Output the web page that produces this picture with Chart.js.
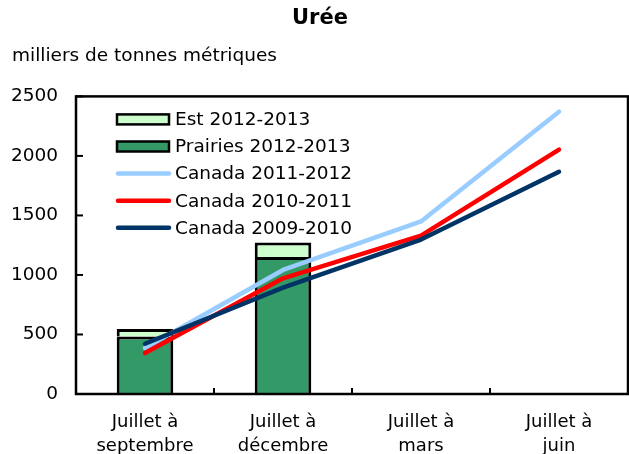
<!DOCTYPE html>
<html><head><meta charset="utf-8">
<script src="https://cdn.jsdelivr.net/npm/chart.js@4"></script>
<style>html,body{margin:0;padding:0;background:#fff}#wrap{width:629px;height:454px}</style>
</head><body><div id="wrap"><canvas id="c" width="629" height="454"></canvas></div>
<script>
const categories = [['Juillet à','septembre'],['Juillet à','décembre'],['Juillet à','mars'],['Juillet à','juin']];
const est20122013 = [63, 122, null, null];
const prairies20122013 = [482, 1150, null, null];
const canada20112012 = [386, 1042, 1450, 2372];
const canada20102011 = [344, 972, 1331, 2053];
const canada20092010 = [422, 894, 1297, 1867];
const yTicks = [0, 500, 1000, 1500, 2000, 2500];

const FONT = "'DejaVu Sans', Verdana, sans-serif";

const frame = {
  id: 'frame',
  afterDraw(chart) {
    const {ctx, chartArea: a, scales} = chart;
    ctx.save();
    ctx.strokeStyle = '#000';
    ctx.lineWidth = 2.5;
    ctx.strokeRect(a.left, a.top, a.right - a.left, a.bottom - a.top);
    ctx.lineWidth = 2;
    scales.y.ticks.forEach(t => {
      const y = scales.y.getPixelForValue(t.value);
      ctx.beginPath(); ctx.moveTo(a.left, y); ctx.lineTo(a.left + 7, y); ctx.stroke();
    });
    const n = categories.length;
    const w = (scales.x.right - scales.x.left) / n;
    for (let i = 1; i < n; i++) {
      const x = scales.x.left + i * w;
      ctx.beginPath(); ctx.moveTo(x, a.bottom); ctx.lineTo(x, a.bottom - 6); ctx.stroke();
    }
    const ds = chart.data.datasets;
    ctx.font = '18.5px ' + FONT;
    ctx.textBaseline = 'middle';
    ctx.textAlign = 'left';
    ds.forEach((d, i) => {
      const yc = a.top + 23 + i * 27.1;
      const x0 = a.left + 41, x1 = a.left + 93;
      if (d.type === 'bar') {
        ctx.fillStyle = d.backgroundColor;
        ctx.fillRect(x0, yc - 5, x1 - x0, 10);
        ctx.lineWidth = 2.5; ctx.strokeStyle = '#000';
        ctx.strokeRect(x0, yc - 5, x1 - x0, 10);
      } else {
        ctx.lineWidth = 4.5; ctx.strokeStyle = d.borderColor; ctx.lineCap = 'round';
        ctx.beginPath(); ctx.moveTo(x0 + 1, yc); ctx.lineTo(x1, yc); ctx.stroke();
      }
      ctx.fillStyle = '#000';
      ctx.fillText(d.label, x1 + 6, yc + 1);
    });
    ctx.restore();
  }
};

new Chart(document.getElementById('c'), {
  data: {
    labels: categories,
    datasets: [
      {type:'bar', label:'Est 2012-2013', data: est20122013, backgroundColor:'#ccffcc', borderColor:'#000', borderWidth:3, order:3, stack:'s', barPercentage:0.41, categoryPercentage:1},
      {type:'bar', label:'Prairies 2012-2013', data: prairies20122013, backgroundColor:'#339966', borderColor:'#000', borderWidth:3, order:2, stack:'s', barPercentage:0.41, categoryPercentage:1},
      {type:'line', label:'Canada 2011-2012', data: canada20112012, stack:'l1', borderColor:'#99ccff', borderWidth:4.5, pointRadius:0, borderCapStyle:'round', borderJoinStyle:'round', order:1.2},
      {type:'line', label:'Canada 2010-2011', data: canada20102011, stack:'l2', borderColor:'#ff0000', borderWidth:4.5, pointRadius:0, borderCapStyle:'round', borderJoinStyle:'round', order:1.1},
      {type:'line', label:'Canada 2009-2010', data: canada20092010, stack:'l3', borderColor:'#003366', borderWidth:4.5, pointRadius:0, borderCapStyle:'round', borderJoinStyle:'round', order:1.0}
    ]
  },
  options: {
    responsive:false, animation:false, devicePixelRatio:1,
    layout:{padding:{left:12, right:1, top:0, bottom:0}},
    plugins:{
      legend:{display:false}, tooltip:{enabled:false},
      title:{display:true, text:'Urée', color:'#000', font:{family:FONT, size:21, weight:'bold'}, padding:{top:6, bottom:0}},
      subtitle:{display:true, text:'milliers de tonnes métriques', align:'start', color:'#000', font:{family:FONT, size:18.5}, padding:{top:14, bottom:29}}
    },
    scales:{
      x:{stacked:true, offset:true, grid:{display:false, drawTicks:false}, border:{display:false},
         ticks:{color:'#000', font:{family:FONT, size:18, lineHeight:1.3}, padding:17, maxRotation:0, autoSkip:false},
         afterFit(s){ s.height = 60; }},
      y:{stacked:true, min:0, max:2500, grid:{display:false, drawTicks:false}, border:{display:false},
         afterBuildTicks(s){ s.ticks = yTicks.map(v => ({value:v})); },
         ticks:{color:'#000', font:{family:FONT, size:18.5}, padding:18, callback:(v)=>String(v)},
         afterFit(s){ s.width = 64; }}
    }
  },
  plugins:[frame]
});
</script></body></html>
